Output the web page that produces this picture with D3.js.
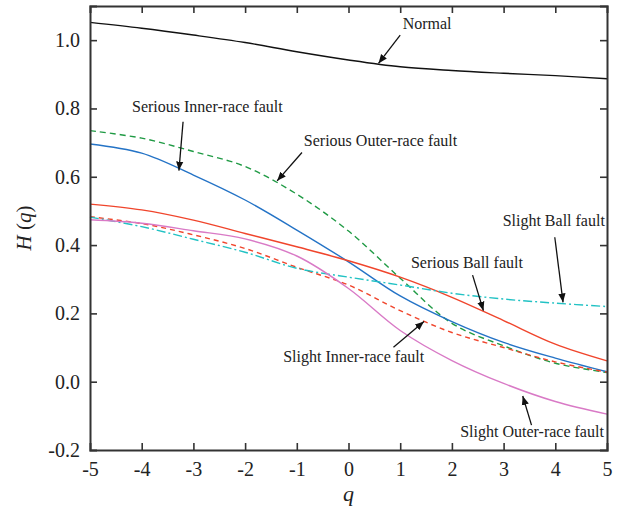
<!DOCTYPE html>
<html>
<head>
<meta charset="utf-8">
<script src="https://cdn.jsdelivr.net/npm/d3@7"></script>
<style>
  body { margin: 0; background: #fff; }
  svg { display: block; }
  text { font-family: "Liberation Serif", "Times New Roman", serif; fill: #222; }
</style>
</head>
<body>
<svg id="chart" width="621" height="515"></svg>
<script>
// Generalized Hurst exponent H(q) for each bearing condition
const qValues = [-5, -4, -3, -2, -1, 0, 1, 2, 3, 4, 5];

const normal        = [1.052, 1.035, 1.015, 0.993, 0.966, 0.942, 0.922, 0.911, 0.903, 0.896, 0.887];
const seriousInner  = [0.696, 0.669, 0.605, 0.532, 0.444, 0.351, 0.251, 0.176, 0.115, 0.069, 0.029];
const seriousOuter  = [0.735, 0.713, 0.674, 0.630, 0.549, 0.441, 0.303, 0.171, 0.105, 0.054, 0.027];
const seriousBall   = [0.520, 0.503, 0.473, 0.434, 0.395, 0.354, 0.306, 0.247, 0.179, 0.110, 0.061];
const slightInner   = [0.483, 0.463, 0.430, 0.390, 0.335, 0.283, 0.208, 0.144, 0.100, 0.058, 0.028];
const slightBall    = [0.482, 0.454, 0.417, 0.379, 0.332, 0.306, 0.283, 0.259, 0.242, 0.230, 0.220];
const slightOuter   = [0.474, 0.464, 0.442, 0.418, 0.368, 0.273, 0.150, 0.062, -0.005, -0.058, -0.095];

const xTicks = [-5, -4, -3, -2, -1, 0, 1, 2, 3, 4, 5];
const yTicks = [-0.2, 0.0, 0.2, 0.4, 0.6, 0.8, 1.0];

const series = [
  { name: "Normal",                  values: normal,       color: "#111111", dash: null },
  { name: "Serious Outer-race fault", values: seriousOuter, color: "#1f9a44", dash: "6,4" },
  { name: "Serious Inner-race fault", values: seriousInner, color: "#2473c6", dash: null },
  { name: "Serious Ball fault",       values: seriousBall,  color: "#f0452c", dash: null },
  { name: "Slight Inner-race fault",  values: slightInner,  color: "#f0452c", dash: "5,4" },
  { name: "Slight Ball fault",        values: slightBall,   color: "#22c2c4", dash: "9,3,2,3" },
  { name: "Slight Outer-race fault",  values: slightOuter,  color: "#d97ac6", dash: null }
];

// Callouts: label position and arrow (from -> to) in data units
const callouts = [
  { text: "Normal",                   tx: 1.52,  ty: 1.033,  from: [1.00, 1.015],  to: [0.58, 0.932] },
  { text: "Serious Inner-race fault", tx: -2.73, ty: 0.790,  from: [-3.20, 0.761], to: [-3.28, 0.618] },
  { text: "Serious Outer-race fault", tx: 0.62,  ty: 0.690,  from: [-0.90, 0.671], to: [-1.38, 0.588] },
  { text: "Slight Ball fault",        tx: 3.97,  ty: 0.456,  from: [3.99, 0.423],  to: [4.15, 0.232] },
  { text: "Serious Ball fault",       tx: 2.29,  ty: 0.3315, from: [2.40, 0.312],  to: [2.61, 0.208] },
  { text: "Slight Inner-race fault",  tx: 0.10,  ty: 0.058,  from: [0.87, 0.101],  to: [1.46, 0.176] },
  { text: "Slight Outer-race fault",  tx: 3.55,  ty: -0.163, from: [3.54, -0.127], to: [3.37, -0.042] }
];

const svg = d3.select("#chart");
const margin = { left: 90, right: 14, top: 6, bottom: 65 };
const W = 621, H = 515;

const x = d3.scaleLinear().domain([-5, 5]).range([margin.left, W - margin.right]);
const y = d3.scaleLinear().domain([-0.2, 1.1]).range([H - margin.bottom, margin.top]);

const axisColor = "#333";

// arrowhead marker
svg.append("defs").append("marker")
  .attr("id", "arrow")
  .attr("viewBox", "0 0 10 10")
  .attr("refX", 10).attr("refY", 5)
  .attr("markerWidth", 9).attr("markerHeight", 9)
  .attr("markerUnits", "userSpaceOnUse")
  .attr("orient", "auto")
  .append("path").attr("d", "M0,1 L10,5 L0,9 Z").attr("fill", "#111");

// curves
const line = d3.line()
  .x((d, i) => x(qValues[i]))
  .y(d => y(d))
  .curve(d3.curveCatmullRom.alpha(0.5));

const plot = svg.append("g");
plot.selectAll("path.series")
  .data(series)
  .join("path")
  .attr("class", "series")
  .attr("d", d => line(d.values))
  .attr("fill", "none")
  .attr("stroke", d => d.color)
  .attr("stroke-width", 1.4)
  .attr("stroke-dasharray", d => d.dash);

// axes with inward ticks on all four sides
const tickLen = 7;
const axBottom = svg.append("g").attr("transform", `translate(0,${y(-0.2)})`)
  .call(d3.axisBottom(x).tickValues(xTicks).tickSize(-tickLen).tickPadding(12).tickFormat(d3.format("d")));
const axTop = svg.append("g").attr("transform", `translate(0,${y(1.1)})`)
  .call(d3.axisTop(x).tickValues(xTicks).tickSize(-tickLen).tickFormat(""));
const axLeft = svg.append("g").attr("transform", `translate(${x(-5)},0)`)
  .call(d3.axisLeft(y).tickValues(yTicks).tickSize(-tickLen).tickPadding(10).tickFormat(d3.format(".1f")));
const axRight = svg.append("g").attr("transform", `translate(${x(5)},0)`)
  .call(d3.axisRight(y).tickValues(yTicks).tickSize(-tickLen).tickFormat(""));

[axBottom, axTop, axLeft, axRight].forEach(g => {
  g.select(".domain").attr("stroke", axisColor).attr("stroke-width", 2);
  g.selectAll(".tick line").attr("stroke", axisColor).attr("stroke-width", 1.6);
  g.selectAll(".tick text")
    .attr("font-family", "Liberation Serif, serif")
    .attr("font-size", 20).attr("fill", "#222");
});
// drop end ticks that coincide with the frame
axBottom.selectAll(".tick").filter(d => d === -5 || d === 5).select("line").remove();
axTop.selectAll(".tick").filter(d => d === -5 || d === 5).select("line").remove();
axLeft.selectAll(".tick").filter(d => d === -0.2).select("line").remove();
axRight.selectAll(".tick").filter(d => d === -0.2).select("line").remove();
// plain hyphen for negative labels
axLeft.selectAll(".tick text").text(d => d3.format(".1f")(d).replace("−", "-"));
axBottom.selectAll(".tick text").text(d => String(d));

// axis titles
svg.append("text")
  .attr("x", x(0)).attr("y", 501)
  .attr("text-anchor", "middle")
  .attr("font-size", 22).attr("font-style", "italic")
  .text("q");

const yt = svg.append("text")
  .attr("transform", `translate(31,${(y(-0.2) + y(1.1)) / 2}) rotate(-90)`)
  .attr("text-anchor", "middle")
  .attr("font-size", 21);
yt.append("tspan").attr("font-style", "italic").text("H");
yt.append("tspan").text(" (");
yt.append("tspan").attr("font-style", "italic").text("q");
yt.append("tspan").text(")");

// callouts
const notes = svg.append("g");
notes.selectAll("line")
  .data(callouts)
  .join("line")
  .attr("x1", d => x(d.from[0])).attr("y1", d => y(d.from[1]))
  .attr("x2", d => x(d.to[0])).attr("y2", d => y(d.to[1]))
  .attr("stroke", "#111").attr("stroke-width", 1.3)
  .attr("marker-end", "url(#arrow)");
notes.selectAll("text")
  .data(callouts)
  .join("text")
  .attr("x", d => x(d.tx)).attr("y", d => y(d.ty))
  .attr("text-anchor", "middle")
  .attr("font-size", 16)
  .text(d => d.text);
</script>
</body>
</html>
